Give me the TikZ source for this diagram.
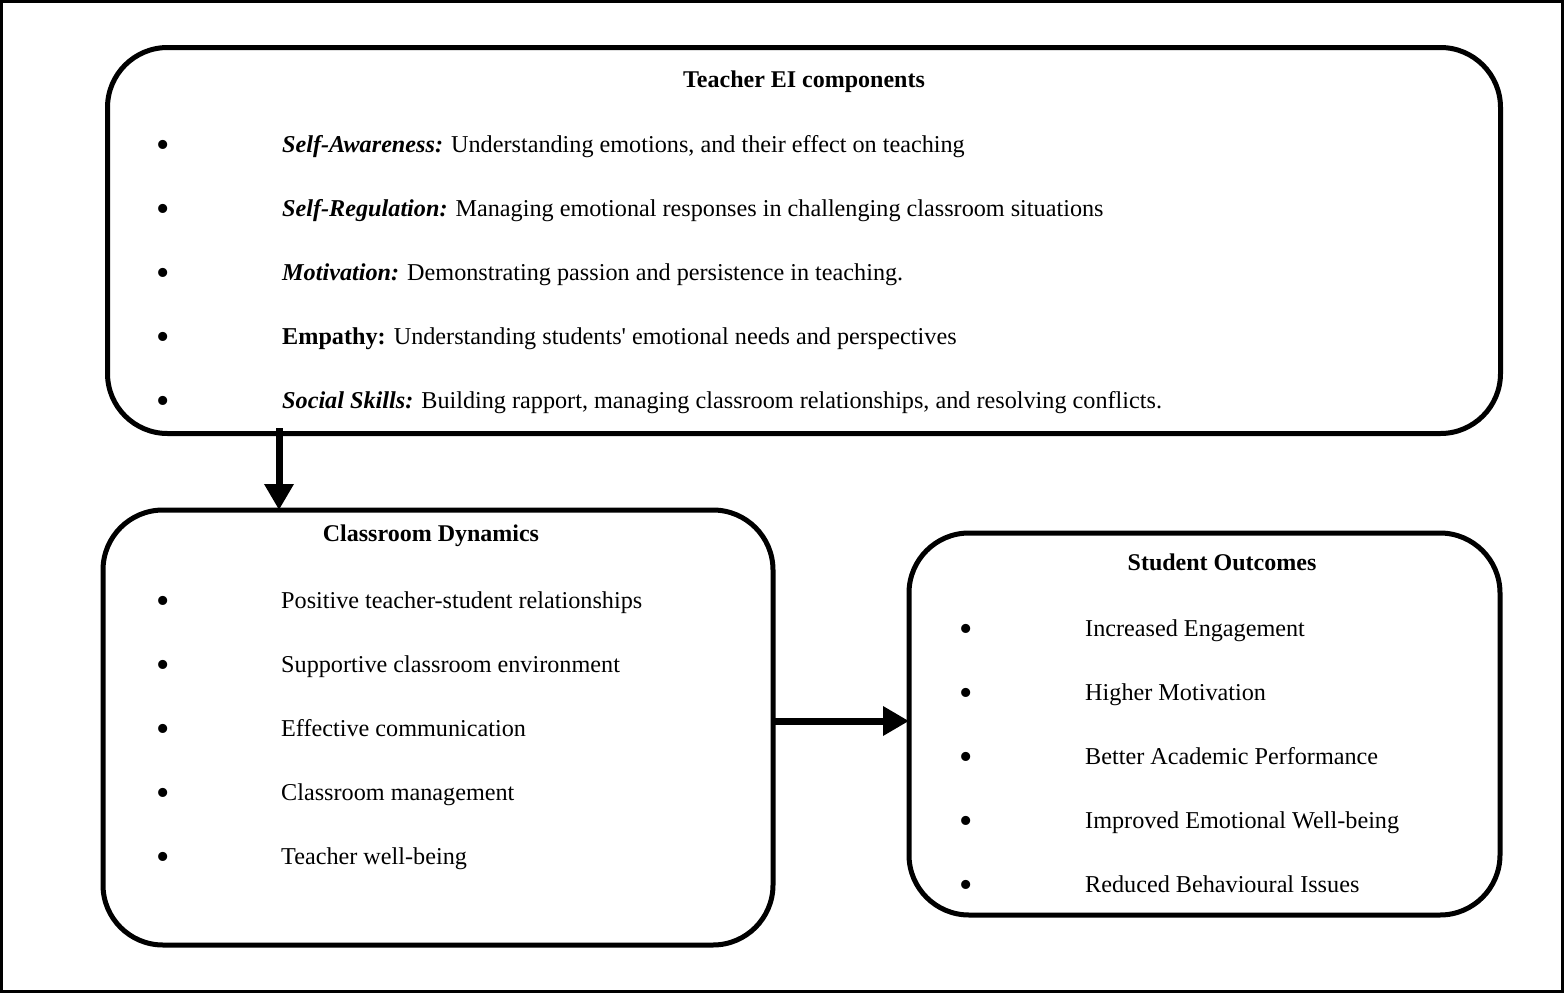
\documentclass[tikz,border=0pt]{standalone}
\usepackage{fontspec}
\setmainfont{Liberation Serif}
\usetikzlibrary{arrows.meta}

\begin{document}
\begin{tikzpicture}[x=1pt,y=-1pt,
  box/.style={draw,line width=5pt,rounded corners=60pt,outer sep=0pt,inner sep=0pt},
  item/.style={anchor=base west,inner sep=0pt,font=\fontsize{24.2}{28}\selectfont},
  dot/.style={anchor=center,yshift=-5pt,inner sep=0pt,font=\fontsize{38}{40}\selectfont},
  head/.style={anchor=base,inner sep=0pt,font=\fontsize{24}{28}\selectfont\bfseries},
  flow/.style={line width=7pt,-{Triangle[length=26pt,width=28pt]}}]

\useasboundingbox (0,0) rectangle (1564,993);
\draw[line width=3pt] (1.5,1.5) rectangle (1562.5,991.5);

\node[box,minimum width=1393pt,minimum height=386pt] (EI) at (804,240.5) {};
\node[box,minimum width=670pt,minimum height=435pt]  (CD) at (438,727.5) {};
\node[box,minimum width=591pt,minimum height=382pt]  (SO) at (1204.5,724) {};

\node[head] (EIh) at (804,87) {Teacher EI components};
\node[dot]  (EIb1) at (163,144) {\textbullet};
\node[item] (EI1)  at (282,152) {\textbf{\textit{Self-Awareness:}} Understanding emotions, and their effect on teaching};
\node[dot]  (EIb2) at (163,208) {\textbullet};
\node[item] (EI2)  at (282,216) {\textbf{\textit{Self-Regulation:}} Managing emotional responses in challenging classroom situations};
\node[dot]  (EIb3) at (163,272) {\textbullet};
\node[item] (EI3)  at (282,280) {\textbf{\textit{Motivation:}} Demonstrating passion and persistence in teaching.};
\node[dot]  (EIb4) at (163,336) {\textbullet};
\node[item] (EI4)  at (282,344) {\textbf{Empathy:} Understanding students\textquotesingle\ emotional needs and perspectives};
\node[dot]  (EIb5) at (163,400) {\textbullet};
\node[item] (EI5)  at (282,408) {\textbf{\textit{Social Skills:}} Building rapport, managing classroom relationships, and resolving conflicts.};

\node[head] (CDh) at (431,541) {Classroom Dynamics};
\node[dot]  (CDb1) at (163,600) {\textbullet};
\node[item] (CD1)  at (281,608) {Positive teacher-student relationships};
\node[dot]  (CDb2) at (163,664) {\textbullet};
\node[item] (CD2)  at (281,672) {Supportive classroom environment};
\node[dot]  (CDb3) at (163,728) {\textbullet};
\node[item] (CD3)  at (281,736) {Effective communication};
\node[dot]  (CDb4) at (163,792) {\textbullet};
\node[item] (CD4)  at (281,800) {Classroom management};
\node[dot]  (CDb5) at (163,856) {\textbullet};
\node[item] (CD5)  at (281,864) {Teacher well-being};

\node[head] (SOh) at (1222,570) {Student Outcomes};
\node[dot]  (SOb1) at (966,628) {\textbullet};
\node[item] (SO1)  at (1085,636) {Increased Engagement};
\node[dot]  (SOb2) at (966,692) {\textbullet};
\node[item] (SO2)  at (1085,700) {Higher Motivation};
\node[dot]  (SOb3) at (966,756) {\textbullet};
\node[item] (SO3)  at (1085,764) {Better Academic Performance};
\node[dot]  (SOb4) at (966,820) {\textbullet};
\node[item] (SO4)  at (1085,828) {Improved Emotional Well-being};
\node[dot]  (SOb5) at (966,884) {\textbullet};
\node[item] (SO5)  at (1085,892) {Reduced Behavioural Issues};

\coordinate (A1) at (279,428);
\draw[flow] (A1) -- (A1 |- CD.north);
\draw[flow] ([yshift=6.5pt]CD.east) -- ([yshift=6.5pt]CD.east -| SO.west);
\end{tikzpicture}
\end{document}
